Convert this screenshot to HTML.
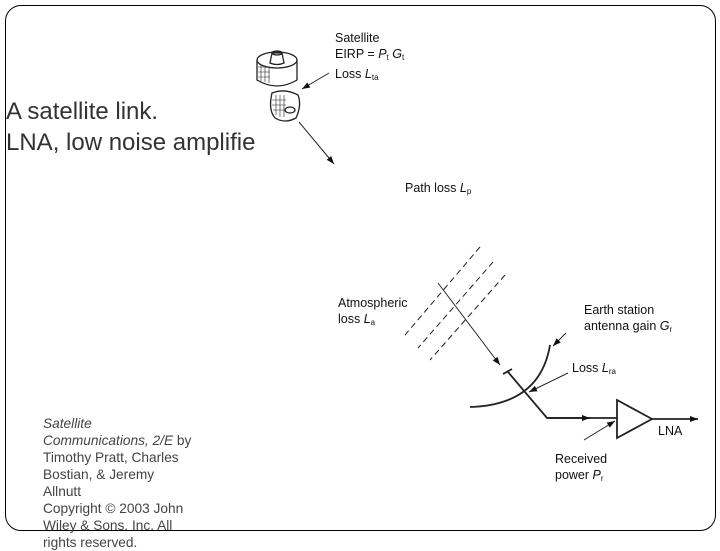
<!DOCTYPE html>
<html><head><style>
body{margin:0;width:720px;height:540px;overflow:hidden;background:#fff;position:relative;font-family:"Liberation Sans",sans-serif;color:#222}
.b{position:absolute;left:5px;top:5px;width:709px;height:524px;border:1.3px solid #000;border-radius:16px}
.t{position:absolute;white-space:nowrap}
.big{font-size:24px;color:#333;line-height:31px;left:6px;top:96px}
.cit{left:43px;top:415px;font-size:13.7px;line-height:17px;color:#444}
.l{font-size:12.5px;color:#111;line-height:16px}
sub{font-size:8px;vertical-align:-2px}
</style></head><body>
<div class="b"></div>
<div class="t big">A satellite link.<br>LNA, low noise amplifie</div>
<div class="t cit"><i>Satellite<br>Communications, 2/E</i> by<br>Timothy Pratt, Charles<br>Bostian, &amp; Jeremy<br>Allnutt<br>Copyright © 2003 John<br>Wiley &amp; Sons. Inc. All<br>rights reserved.</div>
<div class="t l" style="left:335px;top:30px">Satellite<br>EIRP = <i>P</i><sub>t</sub> <i>G</i><sub>t</sub><br>Loss <i>L</i><sub>ta</sub></div>
<div class="t l" style="left:405px;top:180px">Path loss <i>L</i><sub>p</sub></div>
<div class="t l" style="left:338px;top:295px">Atmospheric<br>loss <i>L</i><sub>a</sub></div>
<div class="t l" style="left:584px;top:302px">Earth station<br>antenna gain <i>G</i><sub>r</sub></div>
<div class="t l" style="left:572px;top:360px">Loss <i>L</i><sub>ra</sub></div>
<div class="t l" style="left:555px;top:451px">Received<br>power <i>P</i><sub>r</sub></div>
<div class="t l" style="left:658px;top:423px">LNA</div>
<svg width="720" height="540" style="position:absolute;left:0;top:0">
<defs><marker id="a" markerWidth="8" markerHeight="6" refX="8" refY="3" orient="auto" markerUnits="userSpaceOnUse"><path d="M0,0L8,3L0,6z" fill="#111"/></marker></defs>
<g stroke="#222" fill="none" stroke-width="1">
<line x1="480" y1="247" x2="405" y2="335" stroke-dasharray="6,4"/>
<line x1="493" y1="262" x2="418" y2="348" stroke-dasharray="6,4"/>
<line x1="505" y1="275" x2="430" y2="360" stroke-dasharray="6,4"/>
<line x1="438" y1="283" x2="500" y2="365" marker-end="url(#a)"/>
<line x1="329" y1="73" x2="302" y2="89" marker-end="url(#a)"/>
<line x1="299" y1="122" x2="334" y2="164" marker-end="url(#a)"/>
<line x1="566" y1="333" x2="553" y2="346" marker-end="url(#a)"/>
<line x1="568" y1="373" x2="529" y2="392" marker-end="url(#a)"/>
<line x1="584" y1="440" x2="615" y2="421" marker-end="url(#a)"/>
<g stroke-width="1.8">
<path d="M470,407 Q540,405 550,345"/>
<line x1="503" y1="374" x2="512" y2="369"/>
<polyline points="508,372 547,418 617,418"/>
<line x1="547" y1="418" x2="590" y2="418" marker-end="url(#a)"/>
<polygon points="617,400 617,438 652,419"/>
<line x1="652" y1="419" x2="698" y2="419" marker-end="url(#a)"/>
</g>
<g stroke-width="1.3">
<path d="M257,60 L257,80 Q277,92 297,80 L297,60"/>
<ellipse cx="277" cy="60" rx="20" ry="8" fill="#fff"/>
<path d="M270,63 L272,53 L282,53 L284,63 Q277,66 270,63z"/>
<ellipse cx="277" cy="53" rx="5" ry="2"/>
<path d="M258,67h12M258,72h12M258,77h12M261,65v16M265,66v16M269,67v16" stroke-width="0.6"/>
<path d="M272,93 Q268,110 275,118 Q285,124 296,118 Q302,105 298,95 Q285,88 272,93z"/>
<path d="M272,100h14M272,105h14M273,110h12M276,95v20M280,95v22M284,95v22" stroke-width="0.6"/>
<ellipse cx="290" cy="110" rx="5" ry="3"/>
</g>
</g>
</svg>
</body></html>
